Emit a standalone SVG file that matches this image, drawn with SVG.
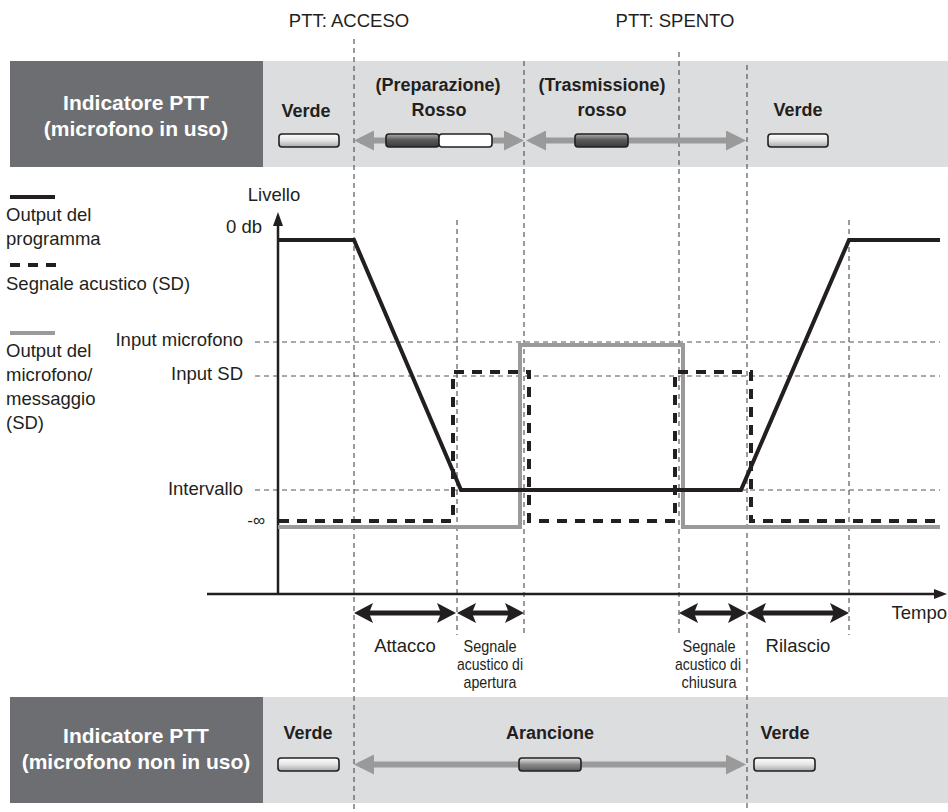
<svg xmlns="http://www.w3.org/2000/svg" width="948" height="812" viewBox="0 0 948 812">
<style>
text{font-family:"Liberation Sans",Arial,Helvetica,sans-serif;fill:#231f20}
.t{font-size:18.5px}
.b{font-size:18px;font-weight:bold}
.big{font-size:21px;font-weight:bold;fill:#ffffff;text-anchor:middle}
.s{font-size:17px;text-anchor:middle}
.m{text-anchor:middle}
.e{text-anchor:end}
.vd{stroke:#4a4a4a;stroke-width:1.1;stroke-dasharray:5 4;fill:none}
.hd{stroke:#555;stroke-width:1;stroke-dasharray:5 4;fill:none}
.prog{stroke:#231f20;stroke-width:4;fill:none;stroke-linejoin:miter}
.sd{stroke:#231f20;stroke-width:4;fill:none;stroke-dasharray:10 8}
.mic{stroke:#9a9a9a;stroke-width:4;fill:none}
.ga{stroke:#9a9a9a;stroke-width:6;fill:none}
.ba{stroke:#231f20;stroke-width:5;fill:none}
.led{stroke:#231f20;stroke-width:1.6}
</style>
<defs>
<linearGradient id="gL" x1="0" y1="0" x2="0" y2="1"><stop offset="0" stop-color="#ffffff"/><stop offset="0.5" stop-color="#e4e4e4"/><stop offset="1" stop-color="#a8a8a8"/></linearGradient>
<linearGradient id="gD" x1="0" y1="0" x2="0" y2="1"><stop offset="0" stop-color="#b0b0b0"/><stop offset="0.45" stop-color="#5a5a5a"/><stop offset="1" stop-color="#3a3a3a"/></linearGradient>
<linearGradient id="gM" x1="0" y1="0" x2="0" y2="1"><stop offset="0" stop-color="#e8e8e8"/><stop offset="0.5" stop-color="#8a8a8a"/><stop offset="1" stop-color="#5a5a5a"/></linearGradient>
<marker id="gh" viewBox="0 0 20 20" refX="14" refY="10" markerWidth="20" markerHeight="20" markerUnits="userSpaceOnUse" orient="auto-start-reverse"><path d="M0,0 L20,10 L0,20 Z" fill="#9a9a9a"/></marker>
<marker id="bh" viewBox="0 0 19 20" refX="13" refY="10" markerWidth="19" markerHeight="20" markerUnits="userSpaceOnUse" orient="auto-start-reverse"><path d="M0,0 L19,10 L0,20 L4,10 Z" fill="#231f20"/></marker>
</defs>

<g id="top-labels">
<text class="t m" x="349" y="27">PTT: ACCESO</text>
<text class="t m" x="675" y="27">PTT: SPENTO</text>
</g>

<g id="band-top">
<rect x="10" y="61" width="253" height="106" fill="#6d6e71"/>
<rect x="263" y="61" width="685" height="106" fill="#dcdddf"/>
<text class="big" x="136" y="110">Indicatore PTT</text>
<text class="big" x="136" y="136">(microfono in uso)</text>
</g>

<g id="band-bottom">
<rect x="10" y="697" width="253" height="106" fill="#6d6e71"/>
<rect x="263" y="697" width="685" height="106" fill="#dcdddf"/>
<text class="big" x="136" y="743">Indicatore PTT</text>
<text class="big" x="136" y="769">(microfono non in uso)</text>
</g>

<g id="grid">
<line class="vd" x1="354" y1="39" x2="354" y2="812"/>
<line class="vd" x1="457" y1="220" x2="457" y2="635"/>
<line class="vd" x1="524" y1="61" x2="524" y2="635"/>
<line class="vd" x1="679" y1="52" x2="679" y2="635"/>
<line class="vd" x1="747" y1="65" x2="747" y2="812"/>
<line class="vd" x1="849" y1="220" x2="849" y2="635"/>
<line class="hd" x1="255" y1="342" x2="940" y2="342"/>
<line class="hd" x1="255" y1="376" x2="940" y2="376"/>
<line class="hd" x1="255" y1="490" x2="940" y2="490"/>
</g>

<g id="state-top">
<text class="b m" x="306" y="117">Verde</text>
<text class="b m" x="438" y="91">(Preparazione)</text>
<text class="b m" x="439" y="116">Rosso</text>
<text class="b m" x="602" y="91">(Trasmissione)</text>
<text class="b m" x="602" y="116">rosso</text>
<text class="b m" x="798" y="116">Verde</text>
<line class="ga" x1="360" y1="140.5" x2="518" y2="140.5" marker-start="url(#gh)" marker-end="url(#gh)"/>
<line class="ga" x1="532" y1="140.5" x2="740" y2="140.5" marker-start="url(#gh)" marker-end="url(#gh)"/>
<rect class="led" x="279" y="134" width="60" height="13" rx="3" fill="url(#gL)"/>
<rect class="led" x="386" y="134" width="53" height="13" rx="3" fill="url(#gD)"/>
<rect class="led" x="439" y="134" width="53" height="13" rx="3" fill="#ffffff"/>
<rect class="led" x="575" y="134" width="53" height="13" rx="3" fill="url(#gD)"/>
<rect class="led" x="768" y="134" width="60" height="13" rx="3" fill="url(#gL)"/>
</g>

<g id="state-bottom">
<text class="b m" x="308" y="739">Verde</text>
<text class="b m" x="550" y="739">Arancione</text>
<text class="b m" x="785" y="739">Verde</text>
<line class="ga" x1="360" y1="764.5" x2="740" y2="764.5" marker-start="url(#gh)" marker-end="url(#gh)"/>
<rect class="led" x="278" y="758" width="61" height="13" rx="3" fill="url(#gL)"/>
<rect class="led" x="519" y="758" width="62" height="13" rx="3" fill="url(#gM)"/>
<rect class="led" x="754" y="758" width="61" height="13" rx="3" fill="url(#gL)"/>
</g>

<g id="legend">
<line class="prog" x1="10" y1="197" x2="55" y2="197"/>
<text class="t" x="6" y="221">Output del</text>
<text class="t" x="6" y="245">programma</text>
<line class="sd" x1="10" y1="265" x2="56" y2="265"/>
<text class="t" x="6" y="290">Segnale acustico (SD)</text>
<line class="mic" x1="10" y1="333" x2="55" y2="333"/>
<text class="t" x="6" y="357">Output del</text>
<text class="t" x="6" y="381">microfono/</text>
<text class="t" x="6" y="405">messaggio</text>
<text class="t" x="6" y="429">(SD)</text>
</g>

<g id="axes">
<line x1="278" y1="594" x2="278" y2="222" stroke="#231f20" stroke-width="2.5"/>
<path d="M273,226 L278,212 L283,226 Z" fill="#231f20"/>
<line x1="207" y1="594" x2="938" y2="594" stroke="#231f20" stroke-width="2.5"/>
<path d="M934,589 L947,594 L934,599 Z" fill="#231f20"/>
<text class="t m" x="274" y="201">Livello</text>
<text class="t e" x="262" y="233">0 db</text>
<text class="t e" x="243" y="346">Input microfono</text>
<text class="t e" x="243" y="380">Input SD</text>
<text class="t e" x="243" y="495">Intervallo</text>
<text class="e" x="265" y="526" style="font-size:17px">-∞</text>
<text class="t e" x="947" y="619">Tempo</text>
</g>

<g id="connectors">
<path class="mic" d="M278,527 L520,527 L520,345 L683,345 L683,527 L940,527"/>
<path class="sd" d="M279,521 L453,521 L453,372 L529,372 L529,521 L675,521 L675,372 L751,372 L751,521 L940,521"/>
<path class="prog" d="M278,240 L354,240 L461,490 L741,490 L849,240 L940,240"/>
</g>

<g id="phases">
<line class="ba" x1="360" y1="613" x2="450" y2="613" marker-start="url(#bh)" marker-end="url(#bh)"/>
<line class="ba" x1="463" y1="613" x2="518" y2="613" marker-start="url(#bh)" marker-end="url(#bh)"/>
<line class="ba" x1="685" y1="613" x2="741" y2="613" marker-start="url(#bh)" marker-end="url(#bh)"/>
<line class="ba" x1="753" y1="613" x2="843" y2="613" marker-start="url(#bh)" marker-end="url(#bh)"/>
<text class="t m" x="405" y="652">Attacco</text>
<text class="s" x="490" y="652" textLength="53" lengthAdjust="spacingAndGlyphs">Segnale</text>
<text class="s" x="490" y="670" textLength="66" lengthAdjust="spacingAndGlyphs">acustico di</text>
<text class="s" x="490" y="688" textLength="53" lengthAdjust="spacingAndGlyphs">apertura</text>
<text class="s" x="709" y="652" textLength="53" lengthAdjust="spacingAndGlyphs">Segnale</text>
<text class="s" x="708" y="670" textLength="66" lengthAdjust="spacingAndGlyphs">acustico di</text>
<text class="s" x="709" y="688" textLength="55" lengthAdjust="spacingAndGlyphs">chiusura</text>
<text class="t m" x="798" y="652">Rilascio</text>
</g>
</svg>
